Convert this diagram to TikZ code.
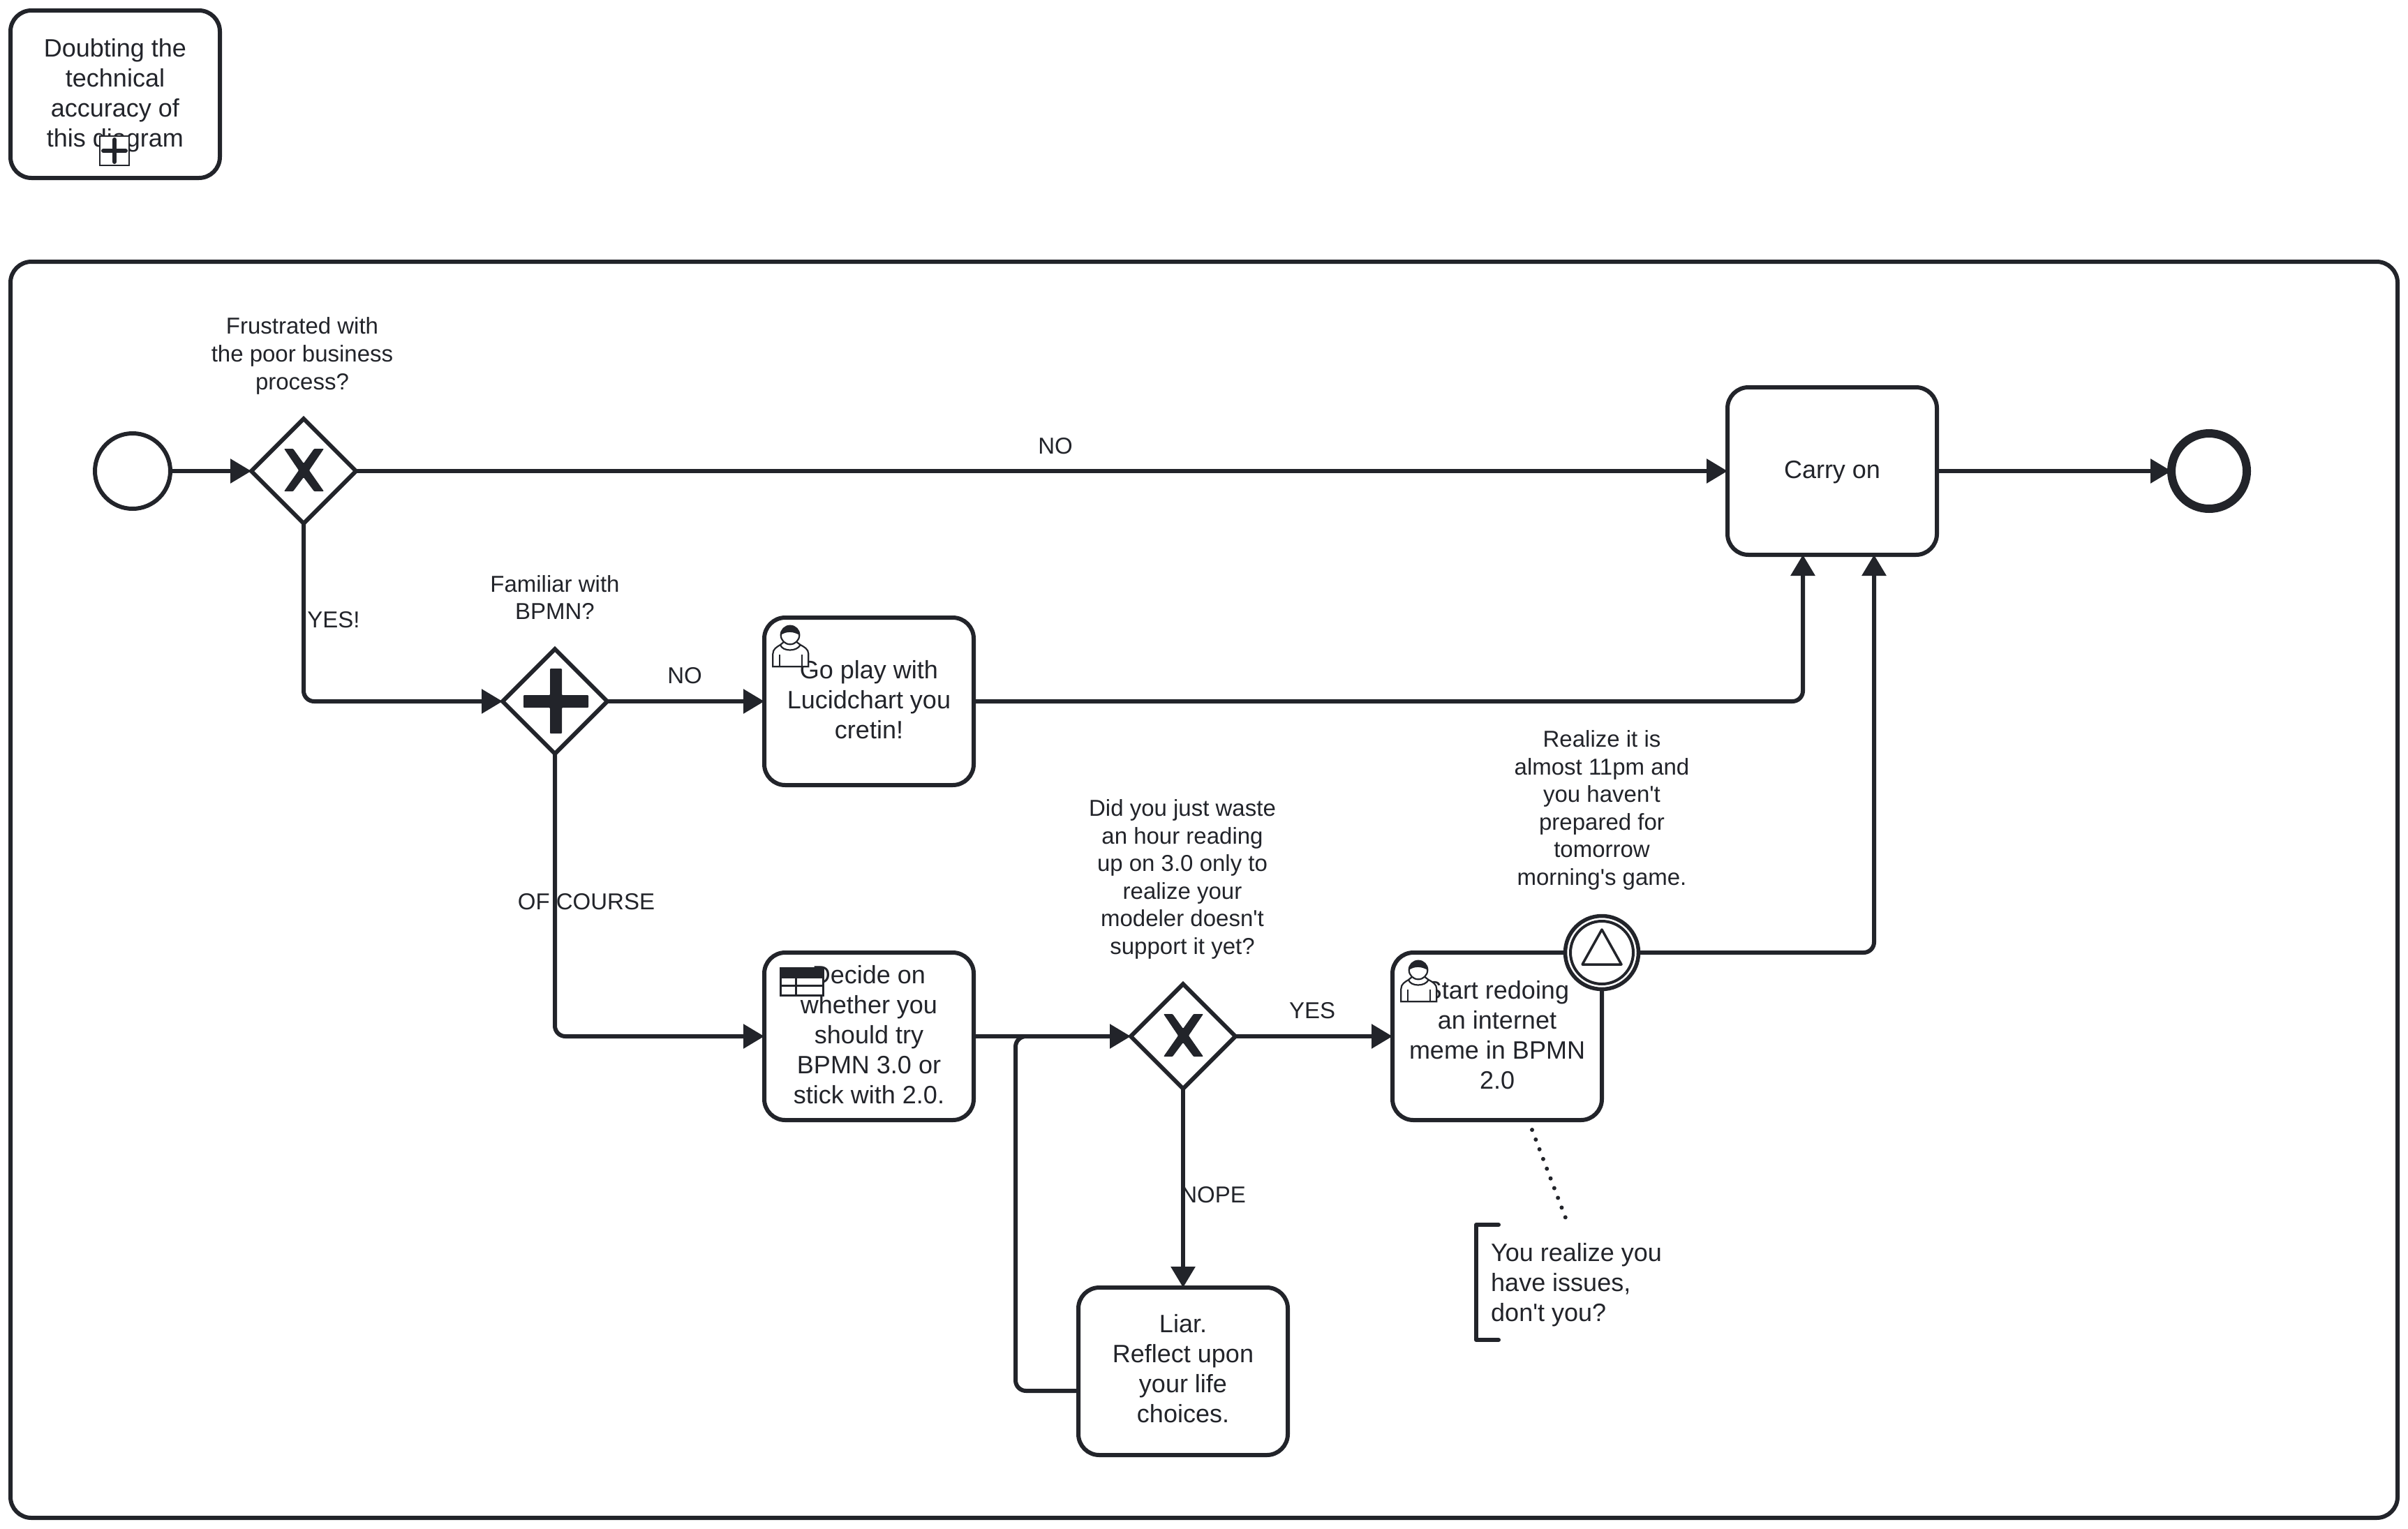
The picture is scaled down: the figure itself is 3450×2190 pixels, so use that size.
\documentclass[tikz,border=0pt]{standalone}
\usepackage{fontspec}
\setmainfont{Liberation Sans}
\usetikzlibrary{arrows.meta,shapes.geometric}
\definecolor{ink}{HTML}{22242A}
\tikzset{
  taskbox/.style={draw=ink,fill=white,line width=6pt,rounded corners=30pt,minimum width=300pt,minimum height=240pt,inner sep=0pt,outer sep=0pt},
  tasktext/.style={text=ink,inner sep=0pt,outer sep=0pt,align=center,font=\fontsize{36}{43}\selectfont},
  gateway/.style={diamond,draw=ink,fill=white,line width=6pt,minimum width=150pt,minimum height=150pt,inner sep=0pt,outer sep=0pt},
  startev/.style={circle,draw=ink,fill=white,line width=6pt,minimum size=108pt,inner sep=0pt,outer sep=0pt},
  endev/.style={circle,draw=ink,fill=white,line width=12pt,minimum size=108pt,inner sep=0pt,outer sep=0pt},
  boundev/.style={circle,draw=ink,fill=white,line width=5.5pt,minimum size=105pt,inner sep=0pt,outer sep=0pt},
  flow/.style={draw=ink,line width=6pt,rounded corners=15pt,-{Triangle[length=30pt,width=34pt]}},
  plainflow/.style={draw=ink,line width=6pt,rounded corners=15pt},
  lbl/.style={text=ink,inner sep=0pt,align=center,font=\fontsize{33}{39.6}\selectfont},
  note/.style={text=ink,inner sep=0pt,align=left,anchor=west,font=\fontsize{36}{43}\selectfont},
  thin icon/.style={draw=ink,fill=white,line width=2.2pt}
}
\newcommand{\xmarker}[1]{\fill[ink,rounded corners=1pt,shift={(#1)}] (-28,-32) -- (-15,-32) -- (0,-11) -- (15,-32) -- (29,-32) -- (8,-1) -- (29,29) -- (15,29) -- (0,9) -- (-15,29) -- (-28,29) -- (-7,-1) -- cycle;}
\newcommand{\plusmarker}[1]{\fill[ink,rounded corners=1pt,shift={(#1)}] (-45,-9) -- (-7,-9) -- (-7,-47) -- (10,-47) -- (10,-9) -- (48,-9) -- (48,9) -- (10,9) -- (10,46) -- (-7,46) -- (-7,9) -- (-45,9) -- cycle;}
\newcommand{\usermark}[1]{%
  \begin{scope}[shift={(#1)}]
    \draw[thin icon] (12.3,70.3) -- (12.3,52) .. controls (12.3,45) and (18,42) .. (23,39) -- (29,34) -- (45,34) -- (51.7,39) .. controls (57,42) and (63.3,45) .. (63.3,52) -- (63.3,70.3) -- cycle;
    \draw[thin icon] (37,25) circle (13.3);
    \fill[ink] (23.7,25) arc[start angle=180,end angle=360,radius=13.3] .. controls (42,20) and (32,19) .. (23.7,25) -- cycle;
    \draw[ink,line width=2.2pt] (23,39) .. controls (26,49) and (47,49) .. (51.7,39);
    \draw[ink,line width=2.2pt] (21.7,53) -- (21.7,70) (54,53) -- (54,70);
  \end{scope}}
\begin{document}
\begin{tikzpicture}[x=1pt,y=-1pt]
\useasboundingbox (0,0) rectangle (3450,2190);
\fill[white] (0,0) rectangle (3450,2190);

% frame
\draw[ink,line width=6pt,rounded corners=30pt] (15,375) rectangle (3435,2175);

% collapsed sub-process
\node[taskbox,label={[tasktext,yshift=-2pt]center:{Doubting the\\technical\\accuracy of\\this diagram}}] (sub) at (165,135) {};
\draw[thin icon] (143,195) rectangle (185,237);
\draw[ink,line width=6pt,line cap=round] (164,200) -- (164,232) (148,216) -- (180,216);

% flow nodes
\node[startev] (start) at (190,675) {};
\node[gateway] (gw1) at (435,675) {};
\node[gateway] (gw2) at (795,1005) {};
\node[gateway] (gw3) at (1695,1485) {};
\node[taskbox,label={[tasktext,yshift=-2pt]center:{Carry on}}] (carry) at (2625,675) {};
\node[endev] (finish) at (3165,675) {};
\node[taskbox,label={[tasktext,yshift=2pt]center:{Go play with\\Lucidchart you\\cretin!}}] (lucid) at (1245,1005) {};
\node[taskbox,label={[tasktext,yshift=2pt]center:{Decide on\\whether you\\should try\\BPMN 3.0 or\\stick with 2.0.}}] (decide) at (1245,1485) {};
\node[taskbox,label={[tasktext,yshift=2pt]center:{Start redoing\\an internet\\meme in BPMN\\2.0}}] (meme) at (2145,1485) {};
\node[taskbox,label={[tasktext,yshift=4pt]center:{Liar.\\Reflect upon\\your life\\choices.}}] (liar) at (1695,1965) {};
\xmarker{435,675}
\plusmarker{795,1005}
\xmarker{1695,1485}

% named free ends
\coordinate (carryA) at (2583,795);
\coordinate (carryB) at (2685,795);
\coordinate (liarOut) at (1545,1993);
\coordinate (loopTop) at (1455,1485);
\coordinate (assocA) at (2195,1619);
\coordinate (assocB) at (2243,1745);

% connectors
\draw[flow] (start.east) -- (gw1.west);
\draw[flow] (gw1.east) -- (carry.west);
\draw[flow] (gw1.south) |- (gw2.west);
\draw[flow] (gw2.east) -- (lucid.west);
\draw[flow] (gw2.south) |- (decide.west);
\draw[flow] (lucid.east) -| (carryA);
\draw[plainflow] (decide.east) -- (1500,1485);
\draw[flow] (liarOut) -| (loopTop) -- (gw3.west);
\draw[flow] (gw3.south) -- (liar.north);
\draw[flow] (gw3.east) -- (meme.west);
\draw[flow] (carry.east) -- (finish.west);
\draw[ink,line width=6pt,line cap=round,dash pattern=on 0pt off 14.9pt] (assocA) -- (assocB);

% boundary event (drawn over the task)
\node[boundev] (bound) at (2295,1365) {};
\draw[ink,line width=4pt] (bound.center) circle (45);
\draw[ink,line width=3.5pt,line join=round] (2295,1332) -- (2323,1382) -- (2267,1382) -- cycle;
\draw[flow] (bound.east) -| (carryB);

% task markers
\usermark{1095,885}
\usermark{1995,1365}
\begin{scope}[shift={(1095,1365)}]
  \draw[draw=ink,fill=white,line width=3pt] (23.3,22.7) rectangle (84.3,61);
  \fill[ink] (23.3,22.7) rectangle (84.3,37.3);
  \draw[ink,line width=3pt] (23.3,47.7) -- (84.3,47.7) (45,37.3) -- (45,61);
\end{scope}

% annotation
\draw[ink,line width=6pt,line cap=round,line join=round] (2147,1755) -- (2115,1755) -- (2115,1920) -- (2147,1920);
\node[note] (remark) at (2136,1841) {You realize you\\have issues,\\don\textquotesingle t you?};

% labels
\node[lbl] (lblA) at (433,510) {Frustrated with\\the poor business\\process?};
\node[lbl] (lblB) at (795,856) {Familiar with\\BPMN?};
\node[lbl] (lblC) at (1694,1260) {Did you just waste\\an hour reading\\up on 3.0 only to\\realize your\\modeler doesn\textquotesingle t\\support it yet?};
\node[lbl] (lblD) at (2295,1161) {Realize it is\\almost 11pm and\\you haven\textquotesingle t\\prepared for\\tomorrow\\morning\textquotesingle s game.};
\node[lbl] (lblNo) at (1512,639) {NO};
\node[lbl] (lblYes) at (478,888) {YES!};
\node[lbl] (lblNoB) at (981,968) {NO};
\node[lbl] (lblOf) at (840,1292) {OF COURSE};
\node[lbl] (lblYesB) at (1880,1448) {YES};
\node[lbl] (lblNope) at (1738,1712) {NOPE};
\end{tikzpicture}
\end{document}
